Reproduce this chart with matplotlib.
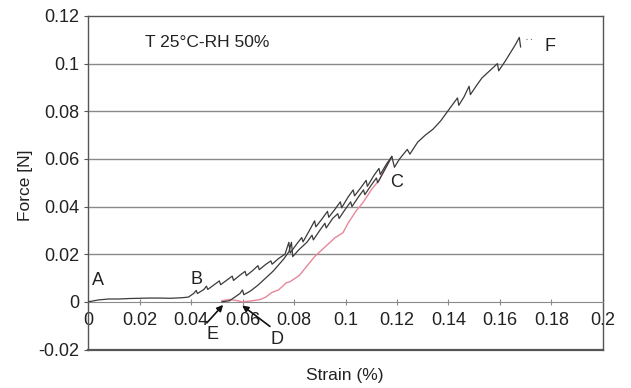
import matplotlib.pyplot as plt

plt.rcParams["font.family"] = ["Liberation Sans", "DejaVu Sans"]

# loading curve A -> B -> C -> F (upper black)
load_x = [0, 0.004, 0.008, 0.012, 0.016, 0.020, 0.024, 0.028, 0.032, 0.036, 0.039,
          0.041, 0.042, 0.0425, 0.045, 0.046, 0.0465, 0.049, 0.051, 0.0515, 0.054,
          0.056, 0.0565, 0.059, 0.061, 0.0615, 0.064, 0.066, 0.0665, 0.069, 0.071,
          0.0715, 0.074, 0.0765, 0.078, 0.0785, 0.081, 0.083, 0.0835, 0.086, 0.088,
          0.0885, 0.091, 0.093, 0.0935, 0.096, 0.098, 0.0985, 0.101, 0.103, 0.1035,
          0.106, 0.108, 0.1085, 0.111, 0.113, 0.1135, 0.116, 0.118, 0.119, 0.121,
          0.124, 0.125, 0.128, 0.131, 0.134, 0.137, 0.140, 0.1435, 0.144, 0.146,
          0.148, 0.1485, 0.151, 0.153, 0.156, 0.159, 0.1595, 0.162, 0.164, 0.166,
          0.1675, 0.168]
load_y = [0, 0.0008, 0.0012, 0.0012, 0.0014, 0.0015, 0.0016, 0.0016, 0.0015, 0.0017, 0.002,
          0.0035, 0.0048, 0.0035, 0.0052, 0.0066, 0.0052, 0.0072, 0.0088, 0.0072, 0.0092,
          0.0108, 0.009, 0.0112, 0.0128, 0.011, 0.0132, 0.0152, 0.0135, 0.0157, 0.0172,
          0.0158, 0.0182, 0.020, 0.025, 0.0205, 0.0242, 0.027, 0.0252, 0.030, 0.034,
          0.0315, 0.035, 0.038, 0.0355, 0.039, 0.042, 0.0395, 0.044, 0.047, 0.0445,
          0.048, 0.051, 0.0485, 0.053, 0.056, 0.0535, 0.058, 0.061, 0.0565, 0.060,
          0.064, 0.062, 0.067, 0.070, 0.0725, 0.076, 0.0805, 0.0856, 0.0825, 0.086,
          0.0905, 0.087, 0.091, 0.094, 0.097, 0.100, 0.097, 0.101, 0.1045, 0.108,
          0.111, 0.107]

# reloading curve E -> C (lower black)
reload_x = [0.052, 0.055, 0.057, 0.059, 0.060, 0.0605, 0.063, 0.066, 0.068, 0.070,
            0.072, 0.074, 0.076, 0.078, 0.079, 0.0795, 0.082, 0.085, 0.087, 0.0875,
            0.090, 0.092, 0.0925, 0.095, 0.097, 0.0975, 0.100, 0.102, 0.1025, 0.105,
            0.107, 0.1075, 0.110, 0.112, 0.1125, 0.115, 0.118]
reload_y = [0, 0.0005, 0.002, 0.0035, 0.005, 0.003, 0.0045, 0.007, 0.009, 0.011,
            0.013, 0.0155, 0.018, 0.021, 0.025, 0.019, 0.022, 0.025, 0.028, 0.026,
            0.030, 0.033, 0.031, 0.035, 0.037, 0.035, 0.039, 0.042, 0.040, 0.044,
            0.047, 0.045, 0.049, 0.052, 0.050, 0.055, 0.061]

# unloading curve C -> D (pink)
unload_x = [0.052, 0.055, 0.058, 0.060, 0.064, 0.067, 0.069, 0.0715, 0.074, 0.077,
            0.0785, 0.082, 0.085, 0.088, 0.092, 0.096, 0.099, 0.101, 0.104, 0.107,
            0.110, 0.113, 0.1155, 0.118]
unload_y = [0.0005, 0.001, 0.0005, 0, 0.0005, 0.001, 0.002, 0.004, 0.005, 0.008,
            0.0085, 0.011, 0.015, 0.019, 0.023, 0.027, 0.029, 0.033, 0.038, 0.042,
            0.047, 0.051, 0.056, 0.061]

x_ticks = [0, 0.02, 0.04, 0.06, 0.08, 0.1, 0.12, 0.14, 0.16, 0.18, 0.2]
x_labels = ["0", "0.02", "0.04", "0.06", "0.08", "0.1", "0.12", "0.14", "0.16", "0.18", "0.2"]
y_ticks = [-0.02, 0, 0.02, 0.04, 0.06, 0.08, 0.1, 0.12]
y_labels = ["-0.02", "0", "0.02", "0.04", "0.06", "0.08", "0.1", "0.12"]

fig = plt.figure(figsize=(6.31, 3.88), dpi=100)
ax = fig.add_axes([0.1395, 0.0992, 0.8161, 0.8596])

frame_color = "#555555"
grid_color = "#8a8a8a"
text_color = "#222222"

for yv in y_ticks[2:-1]:
    ax.axhline(yv, color=grid_color, lw=1.0, zorder=1)

ax.plot(unload_x, unload_y, color="#e8879a", lw=1.0, zorder=3)
ax.plot(reload_x, reload_y, color="#3a3a3a", lw=0.9, zorder=4)
ax.plot(load_x, load_y, color="#3a3a3a", lw=0.9, zorder=4)
ax.plot([0.170, 0.1725], [0.1105, 0.1105], color="#777777", lw=0.8, ls=(0, (1, 3)), zorder=4)

ax.set_xlim(0, 0.2)
ax.set_ylim(-0.02, 0.12)

# x axis sits on the zero line, frame closes at the bottom
ax.spines["bottom"].set_position(("data", 0))
ax.spines["bottom"].set_color(grid_color)
for side in ["left", "top", "right"]:
    ax.spines[side].set_color(frame_color)
    ax.spines[side].set_linewidth(1.0)
ax.axhline(-0.02, color=frame_color, lw=1.6, clip_on=False, zorder=5)

ax.set_xticks(x_ticks)
ax.set_xticklabels(x_labels)
ax.set_yticks(y_ticks)
ax.set_yticklabels(y_labels)
ax.tick_params(axis="x", direction="inout", length=4, color=grid_color,
               labelsize=13, labelcolor=text_color, pad=5)
ax.tick_params(axis="y", direction="out", length=3, color=frame_color,
               labelsize=13, labelcolor=text_color, pad=3)

fig.text(0.040, 0.523, "Force [N]", fontsize=12.5, color=text_color, rotation=90,
         ha="center", va="center")
fig.text(0.547, 0.033, "Strain (%)", fontsize=12.5, color=text_color, ha="center", va="center")

ax.text(0.022, 0.109, "T 25°C-RH 50%", fontsize=12.5, color=text_color, va="center")

label_style = dict(fontsize=13, color=text_color, ha="center", va="center")
ax.text(0.004, 0.0088, "A", **label_style)
ax.text(0.042, 0.0092, "B", **label_style)
ax.text(0.1198, 0.050, "C", **label_style)
ax.text(0.1795, 0.107, "F", **label_style)
ax.text(0.0485, -0.0138, "E", **label_style)
ax.text(0.0735, -0.0158, "D", **label_style)

arrow = dict(arrowstyle="-|>", color="#111111", lw=1.2, mutation_scale=9)
ax.annotate("", xy=(0.0532, -0.0004), xytext=(0.0454, -0.0097), arrowprops=arrow)
ax.annotate("", xy=(0.059, -0.0008), xytext=(0.0715, -0.0110), arrowprops=arrow)

fig.savefig("out.png", dpi=100)
